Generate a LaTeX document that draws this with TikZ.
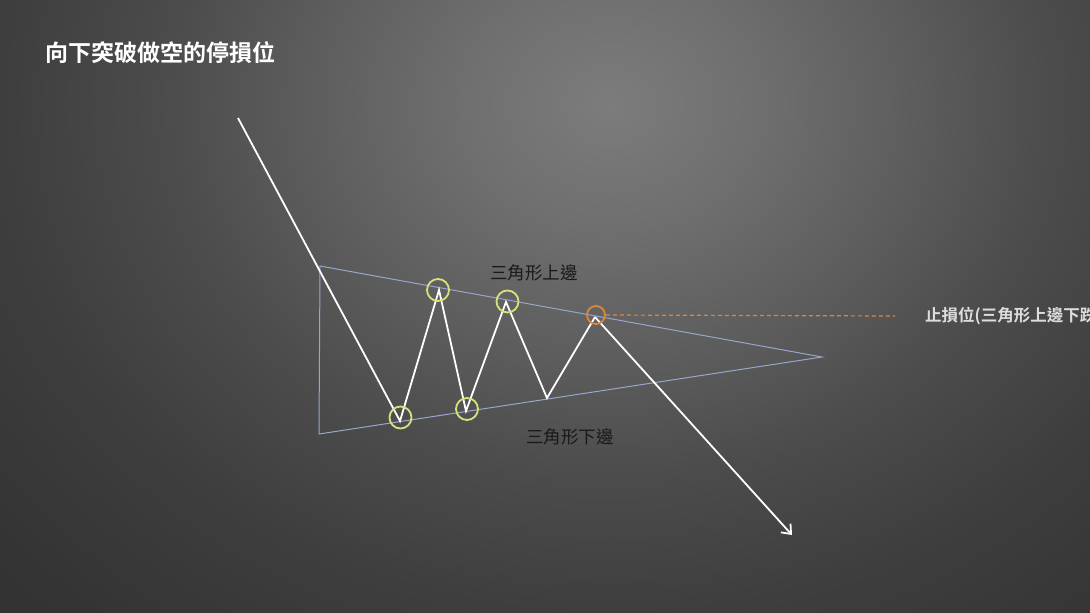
\documentclass[tikz,border=0pt]{standalone}
\usepackage{fontspec}
\newfontfamily\cjk{Noto Sans CJK TC}
\newfontfamily\cjkb{Noto Sans CJK TC Bold}
\usetikzlibrary{arrows.meta}
\definecolor{bg0}{HTML}{7C7C7C}
\definecolor{bg1}{HTML}{6F6F6F}
\definecolor{bg2}{HTML}{5E5E5E}
\definecolor{bg3}{HTML}{4C4C4C}
\definecolor{bg4}{HTML}{3E3E3E}
\definecolor{bg5}{HTML}{343434}
\definecolor{bg6}{HTML}{2E2E2E}
\definecolor{triline}{HTML}{98A6CC}
\definecolor{ring}{HTML}{D8E27A}
\definecolor{orangeline}{HTML}{D9893E}
\definecolor{labelgray}{HTML}{DDDDDD}
\pgfdeclareradialshading{bgshade}{\pgfpoint{0bp}{0bp}}{color(0bp)=(bg0); color(3.5bp)=(bg1); color(7bp)=(bg2); color(10.5bp)=(bg3); color(14.5bp)=(bg4); color(19bp)=(bg5); color(25bp)=(bg6); color(50bp)=(bg6)}
\tikzset{
  tri/.style={draw=triline, line width=1pt},
  zig/.style={draw=white, line width=1.8pt, line join=miter},
  hl/.style={draw=ring, line width=1.8pt, circle, minimum size=22pt, inner sep=0pt},
  hlo/.style={draw=orangeline, line width=1.8pt, circle, minimum size=18pt, inner sep=0pt},
  lbl/.style={font=\cjk\fontsize{17.5}{20}\selectfont, text=black!90, inner sep=0pt},
}
\begin{document}
\begin{tikzpicture}[x=1pt,y=-1pt]
\useasboundingbox (0,0) rectangle (1090,613);
\begin{scope}
\clip (0,0) rectangle (1090,613);
\fill[bg6] (0,0) rectangle (1090,613);
\shade[shading=bgshade] (610,105) ellipse [x radius=1050, y radius=880];
% triangle
\coordinate (TL) at (320,266);
\coordinate (BL) at (319,434);
\coordinate (AP) at (822,357);
\draw[tri] (TL) -- (AP) -- (BL) -- cycle;
% zigzag
\coordinate (S) at (238,118);
\coordinate (V1) at (400,421);
\coordinate (P1) at (439,290);
\coordinate (V2) at (466,411);
\coordinate (P2) at (506,302);
\coordinate (V3) at (547,398);
\coordinate (P3) at (595,317);
\coordinate (E) at (792,535);
\draw[zig] (S) -- (V1) -- (P1) -- (V2) -- (P2) -- (V3) -- (P3);
\draw[zig, -{Straight Barb[length=8pt,width=13pt,line width=1.8pt]}] (P3) -- (E);
% highlight circles
\node[hl] (c1) at (400.5,417.5) {};
\node[hl] (c2) at (438,290) {};
\node[hl] (c3) at (467,409) {};
\node[hl] (c4) at (507.5,301.5) {};
\node[hlo] (c5) at (596,315) {};
% stop loss line
\coordinate (DL) at (895,316);
\draw[orangeline, line width=1.2pt, dash pattern=on 4pt off 3pt] (c5.east) -- (DL);
% labels
\node[lbl] (up) at (534,273) {三角形上邊};
\node[lbl] (dn) at (570,437) {三角形下邊};
\node[font=\cjkb\fontsize{16.5}{19}\selectfont, text=labelgray, anchor=west, inner sep=0pt] (sl) at (925,316) {止損位(三角形上邊下跌};
\node[font=\cjkb\fontsize{23}{27}\selectfont, text=white, anchor=west, inner sep=0pt] (title) at (45,53) {向下突破做空的停損位};
\end{scope}
\end{tikzpicture}
\end{document}
